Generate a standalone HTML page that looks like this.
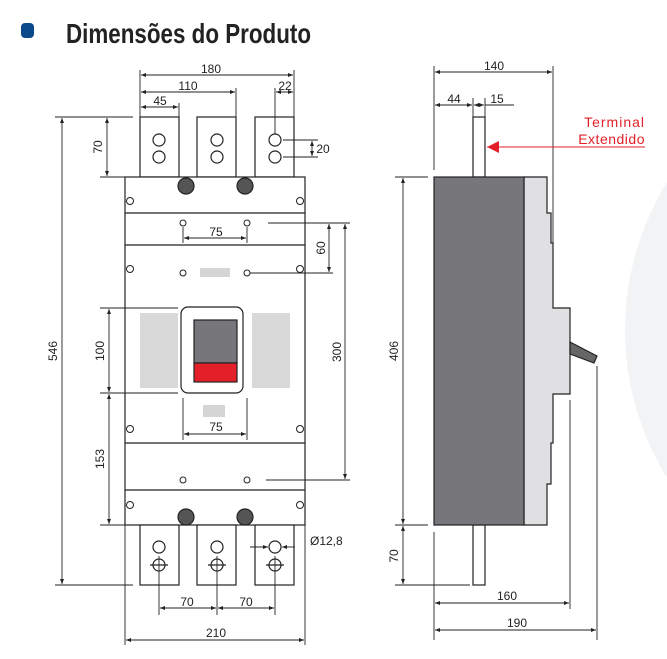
<!DOCTYPE html>
<html><head><meta charset="utf-8"><style>
html,body{margin:0;padding:0;background:#fff;}
svg{display:block;}
text{font-family:"Liberation Sans",Arial,sans-serif;font-size:12px;fill:#222;}
</style></head><body>
<svg width="667" height="659" viewBox="0 0 667 659" xmlns="http://www.w3.org/2000/svg">
<defs>
<marker id="a" viewBox="0 0 10 10" refX="10" refY="5" markerWidth="7" markerHeight="5" orient="auto-start-reverse" markerUnits="userSpaceOnUse"><path d="M0,1 L10,5 L0,9 z" fill="#222"/></marker>
<marker id="r" viewBox="0 0 10 10" refX="10" refY="5" markerWidth="14" markerHeight="12" orient="auto" markerUnits="userSpaceOnUse"><path d="M0,0 L10,5 L0,10 z" fill="#e3202a"/></marker>
</defs>
<circle cx="905" cy="330" r="280" fill="#f2f3f4"/>
<rect x="21" y="23" width="13" height="15" rx="4" fill="#0b4a8a"/>
<text x="66" y="43" style="font-family:'Liberation Sans Narrow','Liberation Sans',sans-serif;font-size:28px;font-weight:bold;fill:#222" textLength="245" lengthAdjust="spacingAndGlyphs">Dimensões do Produto</text>

<g stroke="#222" stroke-width="1.2" fill="none">
<rect x="140" y="117" width="39" height="60" fill="#fff"/>
<rect x="197" y="117" width="39" height="60" fill="#fff"/>
<rect x="255" y="117" width="39" height="60" fill="#fff"/>
<circle cx="159" cy="140" r="6"/><circle cx="159" cy="157" r="6"/>
<circle cx="217" cy="140" r="6"/><circle cx="217" cy="157" r="6"/>
<circle cx="275" cy="140" r="6"/><circle cx="275" cy="157" r="6"/>
<rect x="125" y="177" width="180" height="348" fill="#fff"/>
<line x1="125" y1="213" x2="305" y2="213"/>
<line x1="125" y1="245" x2="305" y2="245"/>
<line x1="125" y1="443" x2="305" y2="443"/>
<line x1="125" y1="490" x2="305" y2="490"/>
<circle cx="186" cy="186" r="8" fill="#555"/><circle cx="245" cy="186" r="8" fill="#555"/>
<circle cx="186" cy="517" r="8" fill="#555"/><circle cx="245" cy="517" r="8" fill="#555"/>
<g stroke-width="1">
<circle cx="130" cy="201" r="3.5"/><circle cx="300" cy="201" r="3.5"/>
<circle cx="130" cy="269" r="3.5"/><circle cx="300" cy="269" r="3.5"/>
<circle cx="130" cy="429" r="3.5"/><circle cx="300" cy="429" r="3.5"/>
<circle cx="130" cy="505" r="3.5"/><circle cx="300" cy="505" r="3.5"/>
<circle cx="183" cy="223" r="3"/><circle cx="247" cy="223" r="3"/>
<circle cx="183" cy="273" r="3"/><circle cx="247" cy="273" r="3"/>
<circle cx="183" cy="480" r="3"/><circle cx="247" cy="480" r="3"/>
</g>
<rect x="200" y="268" width="30" height="9" fill="#d5d5d5" stroke="none"/>
<rect x="140" y="313" width="38" height="75" fill="#d9d9d9" stroke="none"/>
<rect x="252" y="313" width="38" height="75" fill="#d9d9d9" stroke="none"/>
<rect x="181" y="307" width="62" height="86" rx="7" fill="#fff"/>
<rect x="194" y="320" width="43" height="43" fill="#77767b"/>
<rect x="194" y="363" width="43" height="19" fill="#e3202a"/>
<rect x="203" y="405" width="22" height="12" fill="#d5d5d5" stroke="none"/>
<rect x="140" y="525" width="39" height="60" fill="#fff"/>
<rect x="197" y="525" width="39" height="60" fill="#fff"/>
<rect x="255" y="525" width="39" height="60" fill="#fff"/>
<circle cx="159" cy="547" r="6"/><circle cx="217" cy="547" r="6"/><circle cx="275" cy="547" r="6"/>
<circle cx="159" cy="565" r="6"/><circle cx="217" cy="565" r="6"/><circle cx="275" cy="565" r="6"/>
<line x1="150" y1="565" x2="168" y2="565"/><line x1="208" y1="565" x2="226" y2="565"/><line x1="266" y1="565" x2="284" y2="565"/>
</g>

<g stroke="#222" stroke-width="0.9" fill="none">
<line x1="140" y1="70" x2="140" y2="117"/><line x1="294" y1="70" x2="294" y2="117"/>
<line x1="236" y1="88" x2="236" y2="117"/><line x1="179" y1="103" x2="179" y2="117"/>
<line x1="275" y1="88" x2="275" y2="134"/>
<line x1="141" y1="75" x2="293" y2="75" marker-start="url(#a)" marker-end="url(#a)"/>
<line x1="141" y1="92" x2="235" y2="92" marker-start="url(#a)" marker-end="url(#a)"/>
<line x1="141" y1="107" x2="178" y2="107" marker-start="url(#a)" marker-end="url(#a)"/>
<line x1="276" y1="92" x2="293" y2="92" marker-start="url(#a)" marker-end="url(#a)"/>
<line x1="283" y1="140" x2="318" y2="140"/><line x1="283" y1="157" x2="318" y2="157"/>
<line x1="312" y1="141" x2="312" y2="156" marker-start="url(#a)" marker-end="url(#a)"/>
<line x1="55" y1="117" x2="133" y2="117"/><line x1="55" y1="585" x2="133" y2="585"/>
<line x1="100" y1="177" x2="125" y2="177"/>
<line x1="62" y1="118" x2="62" y2="584" marker-start="url(#a)" marker-end="url(#a)"/>
<line x1="107" y1="118" x2="107" y2="176" marker-start="url(#a)" marker-end="url(#a)"/>
<line x1="100" y1="308" x2="178" y2="308"/><line x1="100" y1="393" x2="178" y2="393"/>
<line x1="100" y1="525" x2="125" y2="525"/>
<line x1="109" y1="309" x2="109" y2="392" marker-start="url(#a)" marker-end="url(#a)"/>
<line x1="109" y1="394" x2="109" y2="524" marker-start="url(#a)" marker-end="url(#a)"/>
<line x1="183" y1="227" x2="183" y2="243"/><line x1="247" y1="227" x2="247" y2="243"/>
<line x1="184" y1="238" x2="246" y2="238" marker-start="url(#a)" marker-end="url(#a)"/>
<line x1="183" y1="398" x2="183" y2="440"/><line x1="247" y1="398" x2="247" y2="440"/>
<line x1="184" y1="434" x2="246" y2="434" marker-start="url(#a)" marker-end="url(#a)"/>
<line x1="268" y1="223" x2="350" y2="223"/><line x1="250" y1="273" x2="333" y2="273"/>
<line x1="266" y1="480" x2="350" y2="480"/>
<line x1="329" y1="224" x2="329" y2="272" marker-start="url(#a)" marker-end="url(#a)"/>
<line x1="345" y1="224" x2="345" y2="479" marker-start="url(#a)" marker-end="url(#a)"/>
<line x1="250" y1="547" x2="268" y2="547" marker-end="url(#a)"/>
<line x1="295" y1="547" x2="282" y2="547" marker-end="url(#a)"/>
<line x1="159" y1="556" x2="159" y2="615"/><line x1="217" y1="556" x2="217" y2="615"/><line x1="275" y1="556" x2="275" y2="615"/>
<line x1="160" y1="608" x2="216" y2="608" marker-start="url(#a)" marker-end="url(#a)"/>
<line x1="218" y1="608" x2="274" y2="608" marker-start="url(#a)" marker-end="url(#a)"/>
<line x1="125" y1="525" x2="125" y2="645"/><line x1="305" y1="525" x2="305" y2="645"/>
<line x1="126" y1="640" x2="304" y2="640" marker-start="url(#a)" marker-end="url(#a)"/>
</g>
<text x="211" y="73" text-anchor="middle">180</text>
<text x="188" y="90" text-anchor="middle">110</text>
<text x="160" y="105" text-anchor="middle">45</text>
<text x="285" y="90" text-anchor="middle">22</text>
<text x="323" y="153" text-anchor="middle">20</text>
<text transform="translate(57,351) rotate(-90)" text-anchor="middle">546</text>
<text transform="translate(102,147) rotate(-90)" text-anchor="middle">70</text>
<text transform="translate(104,351) rotate(-90)" text-anchor="middle">100</text>
<text transform="translate(104,459) rotate(-90)" text-anchor="middle">153</text>
<text x="216" y="236" text-anchor="middle">75</text>
<text x="216" y="431" text-anchor="middle">75</text>
<text transform="translate(325,248) rotate(-90)" text-anchor="middle">60</text>
<text transform="translate(341,352) rotate(-90)" text-anchor="middle">300</text>
<text x="310" y="545">Ø12,8</text>
<text x="187" y="606" text-anchor="middle">70</text>
<text x="246" y="606" text-anchor="middle">70</text>
<text x="216" y="637" text-anchor="middle">210</text>

<g stroke="#222" stroke-width="1.2">
<rect x="473" y="117" width="12" height="60" fill="#fff"/>
<rect x="473" y="525" width="12" height="60" fill="#fff"/>
<path d="M524,177 H547 V213 H551 V243 H553 V308 H570 V394 H553 V443 H551 V484 H547 V525 H524 Z" fill="#e0e0e2"/>
<rect x="434" y="177" width="90" height="348" fill="#77767b"/>
<path d="M570,342 L597,356 L594,363 L570,354 Z" fill="#666"/>
</g>
<g stroke="#222" stroke-width="0.9" fill="none">
<line x1="434" y1="66" x2="434" y2="170"/><line x1="553" y1="66" x2="553" y2="243"/>
<line x1="473" y1="98" x2="473" y2="117"/><line x1="485" y1="98" x2="485" y2="117"/>
<line x1="435" y1="72" x2="552" y2="72" marker-start="url(#a)" marker-end="url(#a)"/>
<line x1="435" y1="105" x2="472" y2="105" marker-start="url(#a)" marker-end="url(#a)"/>
<line x1="474" y1="105" x2="484" y2="105" marker-start="url(#a)" marker-end="url(#a)"/>
<line x1="485" y1="105" x2="514" y2="105"/>
<line x1="395" y1="177" x2="428" y2="177"/><line x1="395" y1="525" x2="428" y2="525"/>
<line x1="395" y1="585" x2="470" y2="585"/>
<line x1="403" y1="178" x2="403" y2="524" marker-start="url(#a)" marker-end="url(#a)"/>
<line x1="403" y1="526" x2="403" y2="584" marker-start="url(#a)" marker-end="url(#a)"/>
<line x1="434" y1="532" x2="434" y2="640"/>
<line x1="570" y1="400" x2="570" y2="609"/><line x1="597" y1="366" x2="597" y2="640"/>
<line x1="435" y1="603" x2="569" y2="603" marker-start="url(#a)" marker-end="url(#a)"/>
<line x1="435" y1="630" x2="596" y2="630" marker-start="url(#a)" marker-end="url(#a)"/>
</g>
<text x="494" y="70" text-anchor="middle">140</text>
<text x="454" y="103" text-anchor="middle">44</text>
<text x="497" y="103" text-anchor="middle">15</text>
<text transform="translate(398,351) rotate(-90)" text-anchor="middle">406</text>
<text transform="translate(398,556) rotate(-90)" text-anchor="middle">70</text>
<text x="507" y="600" text-anchor="middle">160</text>
<text x="517" y="627" text-anchor="middle">190</text>
<line x1="645" y1="147" x2="487" y2="147" stroke="#e3202a" stroke-width="1" marker-end="url(#r)"/>
<text x="645" y="127" text-anchor="end" style="fill:#e3202a;font-size:14px;letter-spacing:1px">Terminal</text>
<text x="645" y="144" text-anchor="end" style="fill:#e3202a;font-size:14px;letter-spacing:0.5px">Extendido</text>
</svg>
</body></html>
